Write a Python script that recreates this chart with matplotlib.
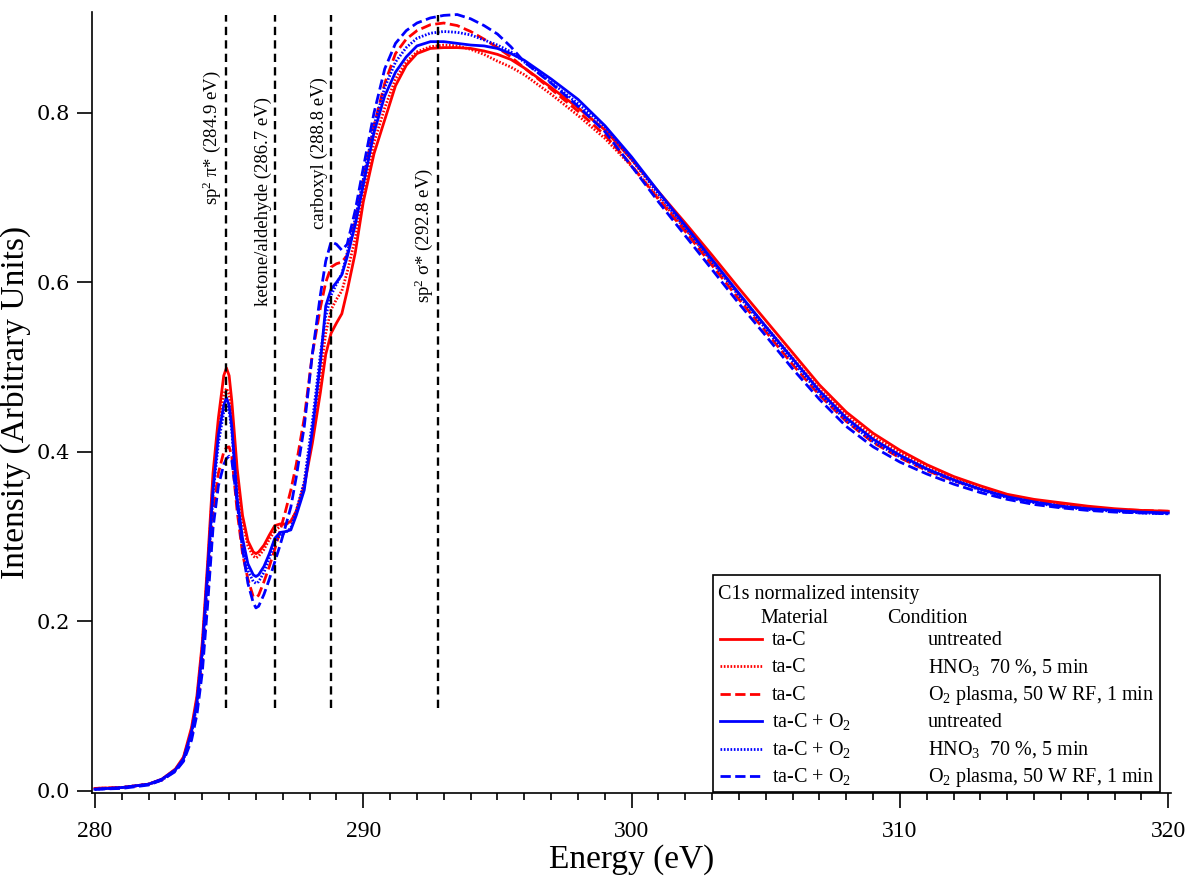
import numpy as np
import matplotlib
matplotlib.use('Agg')
import matplotlib.pyplot as plt
from matplotlib.lines import Line2D
from matplotlib.patches import Rectangle
from matplotlib.ticker import MultipleLocator

plt.rcParams['font.family'] = 'serif'
plt.rcParams['font.serif'] = ['Liberation Serif', 'DejaVu Serif']
plt.rcParams['mathtext.fontset'] = 'custom'
plt.rcParams['mathtext.rm'] = 'Liberation Serif'
plt.rcParams['mathtext.it'] = 'Liberation Serif:italic'

# energy grid (eV)
energy = [280, 281, 282, 282.5, 283, 283.3, 283.6, 283.8,
          284.0, 284.2, 284.4, 284.6, 284.8, 284.9,
          285.0, 285.1, 285.3, 285.5, 285.7, 285.9,
          286.0, 286.1, 286.3, 286.5, 286.7, 286.9,
          287.1, 287.3, 287.5, 287.8,
          288.1, 288.4, 288.6, 288.8,
          289.0, 289.2, 289.4, 289.7,
          290.0, 290.4, 290.8, 291.2, 291.6, 292.0, 292.5,
          293.0, 293.5, 294.0, 294.5, 295.0, 295.5,
          296, 297, 298, 299, 300, 301, 302, 303, 304, 305, 306, 307, 308,
          309, 310, 311, 312, 313, 314, 315, 316, 317, 318, 319, 320]

tac_untreated = [0.003, 0.004, 0.008, 0.014, 0.026, 0.040, 0.075, 0.112,
                 0.175, 0.270, 0.375, 0.440, 0.490, 0.499,
                 0.490, 0.460, 0.380, 0.325, 0.295, 0.282,
                 0.280, 0.282, 0.290, 0.302, 0.313, 0.315,
                 0.315, 0.318, 0.330, 0.360,
                 0.410, 0.470, 0.515, 0.540,
                 0.552, 0.563, 0.590, 0.635,
                 0.695, 0.752, 0.792, 0.832, 0.856, 0.870, 0.876,
                 0.877, 0.877, 0.876, 0.873, 0.869, 0.863,
                 0.853, 0.830, 0.806, 0.780, 0.745, 0.707, 0.670, 0.632, 0.593,
                 0.555, 0.517, 0.479, 0.447, 0.422, 0.402, 0.385, 0.371, 0.360,
                 0.350, 0.344, 0.340, 0.336, 0.333, 0.331, 0.330]

tac_hno3 = [0.003, 0.004, 0.008, 0.014, 0.025, 0.039, 0.072, 0.108,
            0.170, 0.262, 0.365, 0.430, 0.468, 0.475,
            0.468, 0.445, 0.370, 0.318, 0.289, 0.277,
            0.275, 0.277, 0.285, 0.297, 0.307, 0.312,
            0.314, 0.318, 0.330, 0.362,
            0.420, 0.490, 0.540, 0.568,
            0.580, 0.590, 0.612, 0.652,
            0.705, 0.765, 0.806, 0.840, 0.860, 0.872, 0.878,
            0.880, 0.879, 0.875, 0.869, 0.861, 0.854,
            0.845, 0.822, 0.797, 0.770, 0.737, 0.700, 0.663, 0.625, 0.586,
            0.548, 0.511, 0.474, 0.443, 0.418, 0.399, 0.383, 0.369, 0.358,
            0.349, 0.343, 0.338, 0.335, 0.332, 0.330, 0.329]

tac_plasma = [0.003, 0.004, 0.008, 0.013, 0.024, 0.036, 0.065, 0.097,
              0.150, 0.235, 0.330, 0.375, 0.400, 0.405,
              0.406, 0.395, 0.330, 0.280, 0.250, 0.229,
              0.228, 0.231, 0.247, 0.265, 0.285, 0.307,
              0.330, 0.355, 0.385, 0.440,
              0.515, 0.570, 0.600, 0.618,
              0.622, 0.624, 0.632, 0.672,
              0.720, 0.785, 0.835, 0.870, 0.887, 0.897, 0.904,
              0.906, 0.903, 0.896, 0.887, 0.877, 0.866,
              0.853, 0.828, 0.802, 0.774, 0.738, 0.698, 0.660, 0.620, 0.580,
              0.542, 0.503, 0.467, 0.436, 0.411, 0.393, 0.378, 0.366, 0.356,
              0.348, 0.342, 0.337, 0.334, 0.332, 0.331, 0.330]

taco2_untreated = [0.002, 0.004, 0.008, 0.014, 0.025, 0.038, 0.070, 0.105,
                   0.165, 0.260, 0.355, 0.420, 0.455, 0.464,
                   0.455, 0.430, 0.345, 0.298, 0.268, 0.255,
                   0.253, 0.255, 0.265, 0.280, 0.298, 0.305,
                   0.306, 0.308, 0.325, 0.355,
                   0.425, 0.505, 0.572, 0.592,
                   0.600, 0.609, 0.630, 0.668,
                   0.715, 0.777, 0.820, 0.848, 0.866, 0.879, 0.884,
                   0.884, 0.882, 0.880, 0.879, 0.876, 0.870,
                   0.862, 0.840, 0.816, 0.785, 0.748, 0.707, 0.667, 0.627, 0.587,
                   0.548, 0.510, 0.472, 0.440, 0.415, 0.396, 0.380, 0.367, 0.356,
                   0.347, 0.341, 0.336, 0.333, 0.331, 0.329, 0.328]

taco2_hno3 = [0.002, 0.004, 0.008, 0.013, 0.024, 0.037, 0.068, 0.102,
              0.160, 0.252, 0.350, 0.410, 0.447, 0.455,
              0.448, 0.425, 0.340, 0.290, 0.260, 0.247,
              0.245, 0.247, 0.258, 0.275, 0.293, 0.302,
              0.305, 0.310, 0.330, 0.365,
              0.435, 0.515, 0.560, 0.585,
              0.598, 0.610, 0.635, 0.675,
              0.722, 0.785, 0.830, 0.860, 0.877, 0.888, 0.894,
              0.896, 0.895, 0.892, 0.886, 0.880, 0.872,
              0.860, 0.836, 0.811, 0.784, 0.745, 0.704, 0.664, 0.624, 0.584,
              0.545, 0.507, 0.469, 0.437, 0.412, 0.394, 0.379, 0.366, 0.355,
              0.346, 0.340, 0.335, 0.332, 0.330, 0.328, 0.327]

taco2_plasma = [0.002, 0.003, 0.007, 0.013, 0.023, 0.035, 0.060, 0.090,
                0.140, 0.220, 0.310, 0.360, 0.385, 0.392,
                0.395, 0.390, 0.340, 0.285, 0.245, 0.222,
                0.216, 0.218, 0.232, 0.250, 0.270, 0.290,
                0.312, 0.335, 0.370, 0.430,
                0.515, 0.585, 0.625, 0.648,
                0.645, 0.638, 0.645, 0.685,
                0.735, 0.800, 0.852, 0.882, 0.897, 0.906, 0.912,
                0.915, 0.916, 0.911, 0.903, 0.893, 0.878,
                0.860, 0.835, 0.808, 0.778, 0.737, 0.695, 0.655, 0.615, 0.575,
                0.537, 0.498, 0.462, 0.430, 0.406, 0.388, 0.374, 0.362, 0.352,
                0.344, 0.338, 0.334, 0.331, 0.329, 0.328, 0.327]

# reference peak positions
peak_pos = [284.9, 286.7, 288.8, 292.8]
peak_labels = [r'sp$^{2}$ π* (284.9 eV)', 'ketone/aldehyde (286.7 eV)',
               'carboxyl (288.8 eV)', r'sp$^{2}$ σ* (292.8 eV)']
peak_label_top = [0.850, 0.819, 0.842, 0.735]

materials = ['ta-C', 'ta-C', 'ta-C', r'ta-C + O$_2$', r'ta-C + O$_2$', r'ta-C + O$_2$']
conditions = ['untreated', r'HNO$_3$  70 %, 5 min', r'O$_2$ plasma, 50 W RF, 1 min'] * 2

series = [tac_untreated, tac_hno3, tac_plasma, taco2_untreated, taco2_hno3, taco2_plasma]
colors = ['#ff0000'] * 3 + ['#0000ff'] * 3
dotted = (0, (0.6, 0.6))
styles = ['-', dotted, '--', '-', dotted, '--']
widths = [2.0, 2.0, 2.0, 2.0, 2.0, 2.0]

W, H = 1191, 880
fig = plt.figure(figsize=(W / 100, H / 100), dpi=100)
ax = fig.add_axes([92 / W, 1 - 793 / H, 1079 / W, 781 / H])

for y, c, ls, lw in zip(series, colors, styles, widths):
    ax.plot(energy, y, color=c, linestyle=ls, linewidth=lw)

ax.vlines(peak_pos, 0.098, 0.916, colors='k', linestyles=(0, (3.5, 2.2)), linewidth=1.7)
for xp, lab, top in zip(peak_pos, peak_labels, peak_label_top):
    ax.text(xp - 0.12, top, lab, rotation=90, ha='right', va='top', fontsize=13.5)

ax.set_xlim(279.89, 320.1)
ax.set_ylim(-0.0024, 0.919)
ax.xaxis.set_major_locator(MultipleLocator(10))
ax.xaxis.set_minor_locator(MultipleLocator(1))
ax.yaxis.set_major_locator(MultipleLocator(0.2))
ax.yaxis.set_major_formatter(matplotlib.ticker.FormatStrFormatter('%.1f'))
ax.tick_params(axis='both', which='major', direction='out', length=11, width=1.2)
ax.tick_params(axis='x', which='major', pad=9, labelsize=17)
ax.tick_params(axis='y', which='major', pad=5, labelsize=15)
ax.tick_params(axis='x', which='minor', direction='out', length=5, width=1.2)
for lab in ax.get_yticklabels():
    lab.set_family('DejaVu Serif')
for s in ['top', 'right']:
    ax.spines[s].set_visible(False)
for s in ['left', 'bottom']:
    ax.spines[s].set_linewidth(1.2)

ax.set_xlabel('Energy (eV)', fontsize=24, labelpad=2)
ax.set_ylabel('Intensity (Arbitrary Units)', fontsize=24, labelpad=4)


# legend box drawn by hand in pixel coordinates
def fx(px):
    return px / W


def fy(py):
    return 1 - py / H


fig.add_artist(Rectangle((fx(713), fy(792)), fx(1160) - fx(713), fy(575) - fy(792),
                         transform=fig.transFigure, fill=False, edgecolor='k',
                         linewidth=1.2))
fig.text(fx(718), fy(599), 'C1s normalized intensity', fontsize=14.5)
fig.text(fx(760), fy(623), 'Material', fontsize=14.5)
fig.text(fx(887), fy(623), 'Condition', fontsize=14.5)
for i in range(6):
    yc = 639 + 27.4 * i
    fig.add_artist(Line2D([fx(720), fx(762)], [fy(yc), fy(yc)], transform=fig.transFigure,
                          color=colors[i], linestyle=styles[i], linewidth=widths[i]))
    fig.text(fx(772), fy(yc + 6), materials[i], fontsize=14.5)
    fig.text(fx(928), fy(yc + 6), conditions[i], fontsize=14.5)

fig.savefig('out.png', dpi=100)
